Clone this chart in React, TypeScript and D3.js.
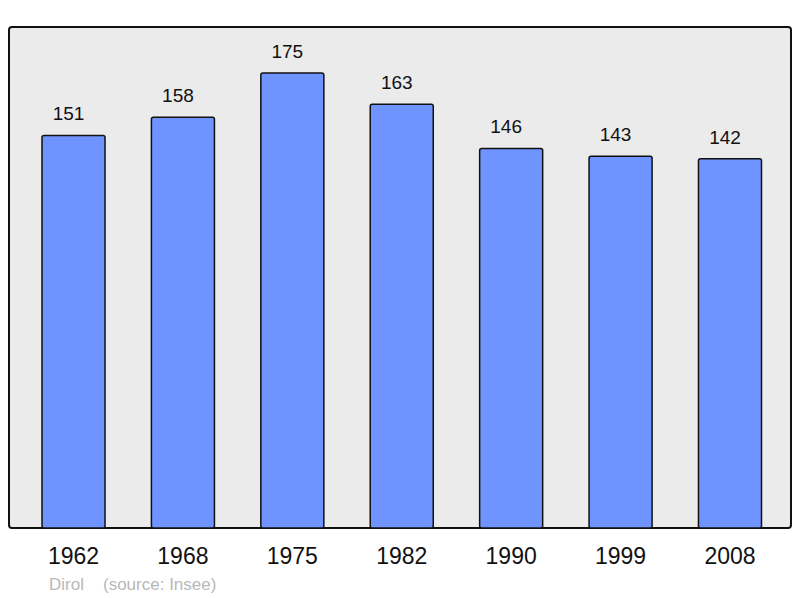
import React from 'react';
import * as d3 from 'd3';

const years = ['1962', '1968', '1975', '1982', '1990', '1999', '2008'];
const population = [151, 158, 175, 163, 146, 143, 142];

const W = 800;
const H = 598;
const panel = { left: 9, top: 27, right: 791, bottom: 528 };
const font = '"Liberation Sans", Arial, sans-serif';

export default function App() {
  const x = d3.scaleBand<string>()
    .domain(years)
    .range([42, 761.5])
    .paddingInner(0.424)
    .paddingOuter(0);
  const y = d3.scaleLinear()
    .domain([0, 192.7])
    .range([panel.bottom, panel.top]);

  return (
    <svg width={W} height={H} style={{ position: 'absolute', left: 0, top: 0, background: '#fff' }}>
      <rect
        x={panel.left}
        y={panel.top}
        width={panel.right - panel.left}
        height={panel.bottom - panel.top}
        rx={3}
        fill="#ebebeb"
        stroke="#111"
        strokeWidth={2}
      />
      {years.map((yr, i) => {
        const v = population[i];
        const bx = x(yr) ?? 0;
        const cx = bx + x.bandwidth() / 2;
        return (
          <g key={yr}>
            <rect
              x={bx}
              y={y(v)}
              width={x.bandwidth()}
              height={panel.bottom - y(v)}
              rx={2}
              fill="#7094ff"
              stroke="#111"
              strokeWidth={1.5}
            />
            {/* value labels sit a bit left of the bar centre */}
            <text x={cx - 5} y={y(v) - 15} textAnchor="middle" fontFamily={font} fontSize={19} fill="#111">
              {v}
            </text>
            <text x={cx} y={564} textAnchor="middle" fontFamily={font} fontSize={23} fill="#111">
              {yr}
            </text>
          </g>
        );
      })}
      <text x={49} y={590} fontFamily={font} fontSize={17} fill="#b8b8b8">Dirol</text>
      <text x={103} y={590} fontFamily={font} fontSize={17} fill="#b8b8b8">(source: Insee)</text>
    </svg>
  );
}
